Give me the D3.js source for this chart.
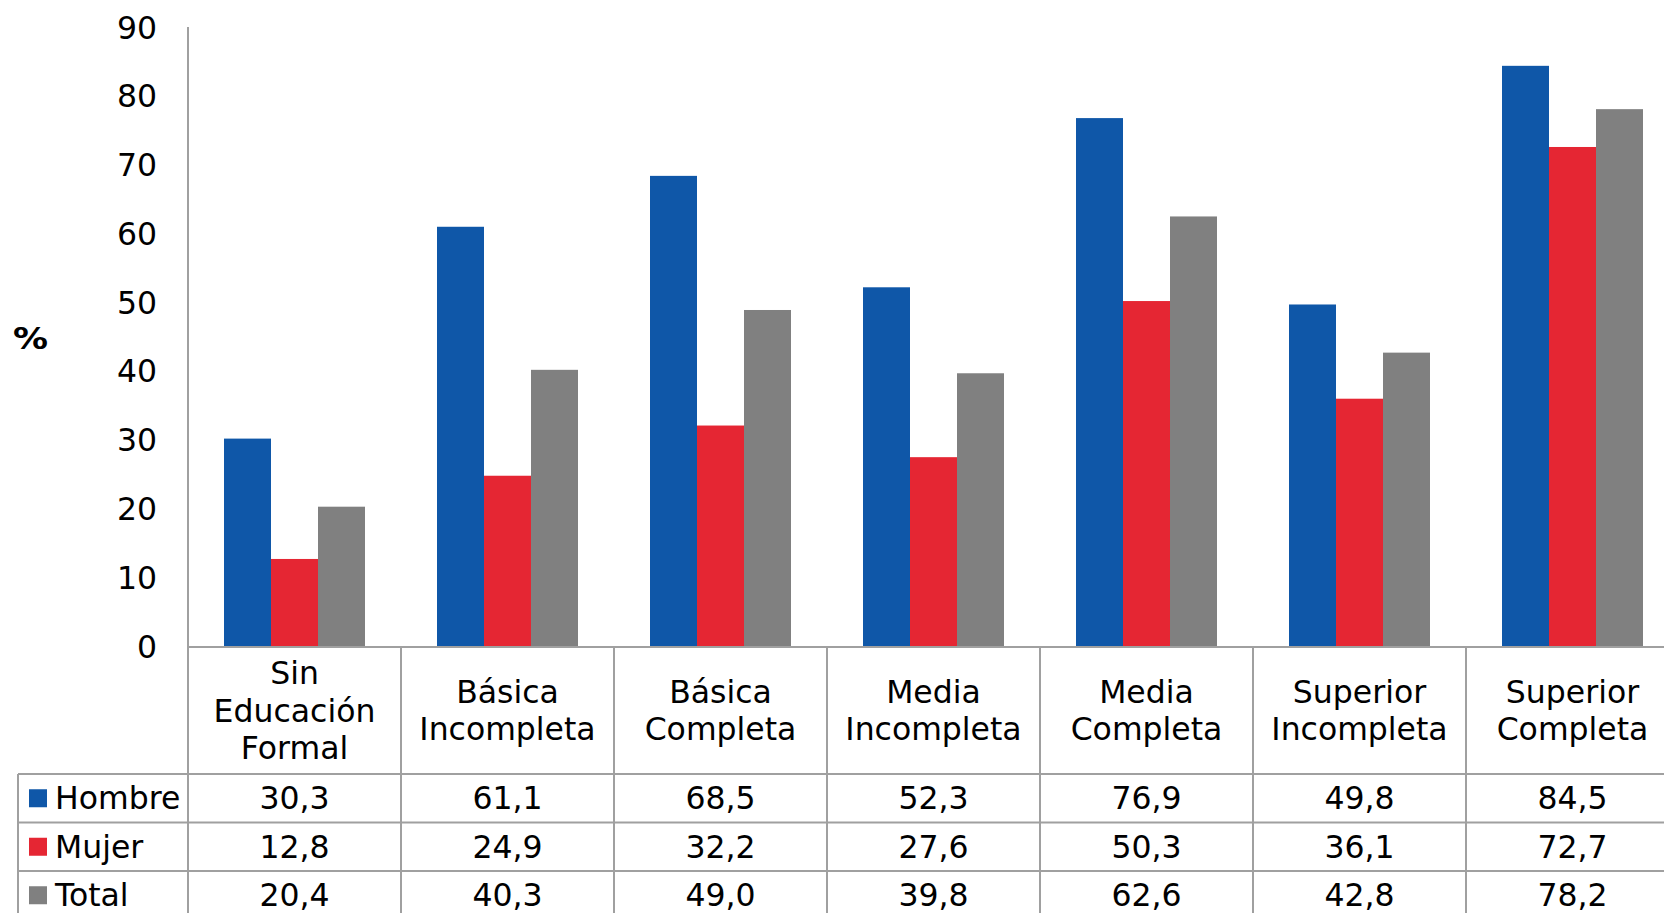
<!DOCTYPE html>
<html>
<head>
<meta charset="utf-8">
<script src="https://cdn.jsdelivr.net/npm/d3@7"></script>
<style>
  html, body { margin: 0; padding: 0; background: #fff; overflow: hidden; }
  svg { display: block; }
  text { font-family: "DejaVu Sans", Verdana, sans-serif; fill: #000; }
</style>
</head>
<body>
<svg id="chart" width="1664" height="913"></svg>
<script>
const categories = [
  ["Sin", "Educación", "Formal"],
  ["Básica", "Incompleta"],
  ["Básica", "Completa"],
  ["Media", "Incompleta"],
  ["Media", "Completa"],
  ["Superior", "Incompleta"],
  ["Superior", "Completa"]
];
const seriesNames = ["Hombre", "Mujer", "Total"];
const seriesColors = ["#0f57a8", "#e52633", "#808080"];
const hombre = [30.3, 61.1, 68.5, 52.3, 76.9, 49.8, 84.5];
const mujer  = [12.8, 24.9, 32.2, 27.6, 50.3, 36.1, 72.7];
const total  = [20.4, 40.3, 49.0, 39.8, 62.6, 42.8, 78.2];
const yTicks = [0, 10, 20, 30, 40, 50, 60, 70, 80, 90];
const yTitle = "%";

const seriesValues = [hombre, mujer, total];
const fmt = v => v.toFixed(1).replace(".", ",");

const svg = d3.select("#chart");
const fontSize = 31.5;
const gridColor = "#a0a0a0";

const plotLeft = 188, plotTop = 28, plotBottom = 647;
const colW = 213;
const tableLeft = 18;
const headerBottom = 774;
const rowH = 48.5;

const x0 = d3.scaleBand().domain(d3.range(categories.length))
  .range([plotLeft, plotLeft + colW * categories.length]).padding(0);
const x1 = d3.scaleBand().domain(d3.range(seriesNames.length))
  .range([0, x0.bandwidth()]).paddingInner(0).paddingOuter(0.766);
const y = d3.scaleLinear().domain([0, 90]).range([plotBottom, plotTop]);

// bars
const groups = svg.append("g").selectAll("g")
  .data(categories.map((c, i) => i))
  .join("g")
  .attr("transform", i => `translate(${x0(i)},0)`);
groups.selectAll("rect")
  .data(i => seriesValues.map((s, k) => ({k, v: s[i]})))
  .join("rect")
  .attr("x", d => x1(d.k))
  .attr("width", x1.bandwidth())
  .attr("y", d => y(d.v))
  .attr("height", d => y(0) - y(d.v))
  .attr("fill", d => seriesColors[d.k]);

// y axis
const yAxis = d3.axisLeft(y).tickValues(yTicks).tickSize(0).tickPadding(31)
  .tickFormat(d3.format("d"));
const ya = svg.append("g").attr("transform", `translate(${plotLeft},0)`).call(yAxis);
ya.select(".domain").remove();
ya.selectAll("text")
  .style("font-family", '"DejaVu Sans", Verdana, sans-serif')
  .style("font-size", fontSize + "px")
  .attr("fill", "#000");

svg.append("text")
  .attr("x", 13).attr("y", 349)
  .attr("textLength", 35).attr("lengthAdjust", "spacingAndGlyphs")
  .style("font-size", "31px").style("font-weight", "bold")
  .text(yTitle);

// grid lines of axis/table
const tableBottom = headerBottom + rowH * 3;
const lines = svg.append("g").attr("stroke", gridColor).attr("stroke-width", 2);
lines.append("line").attr("x1", plotLeft).attr("x2", plotLeft)
  .attr("y1", y(90) - 1).attr("y2", tableBottom);
lines.append("line").attr("x1", plotLeft).attr("x2", x0.range()[1])
  .attr("y1", plotBottom).attr("y2", plotBottom);
categories.forEach((c, i) => {
  const xx = x0(i) + colW;
  lines.append("line").attr("x1", xx).attr("x2", xx)
    .attr("y1", plotBottom).attr("y2", tableBottom);
});
for (let r = 0; r <= 3; r++) {
  const yy = headerBottom + r * rowH;
  lines.append("line").attr("x1", tableLeft).attr("x2", x0.range()[1])
    .attr("y1", yy).attr("y2", yy);
}
lines.append("line").attr("x1", tableLeft).attr("x2", tableLeft)
  .attr("y1", headerBottom).attr("y2", tableBottom);

// category labels
const lineH = 37.5;
const headerMid = (plotBottom + headerBottom) / 2;
categories.forEach((c, i) => {
  const cx = x0(i) + colW / 2;
  const startY = headerMid - (c.length - 1) * lineH / 2;
  const t = svg.append("text").attr("text-anchor", "middle")
    .style("font-size", fontSize + "px");
  c.forEach((ln, j) => {
    t.append("tspan").attr("x", cx).attr("y", startY + j * lineH + 11).text(ln);
  });
});

// table rows
seriesNames.forEach((name, k) => {
  const mid = headerBottom + rowH * k + rowH / 2;
  svg.append("rect").attr("x", 29).attr("y", mid - 9)
    .attr("width", 18).attr("height", 18).attr("fill", seriesColors[k]);
  svg.append("text").attr("x", 55).attr("y", mid + 11)
    .style("font-size", fontSize + "px").text(name);
  seriesValues[k].forEach((v, i) => {
    svg.append("text").attr("x", x0(i) + colW / 2).attr("y", mid + 11)
      .attr("text-anchor", "middle").style("font-size", fontSize + "px")
      .text(fmt(v));
  });
});
</script>
</body>
</html>
